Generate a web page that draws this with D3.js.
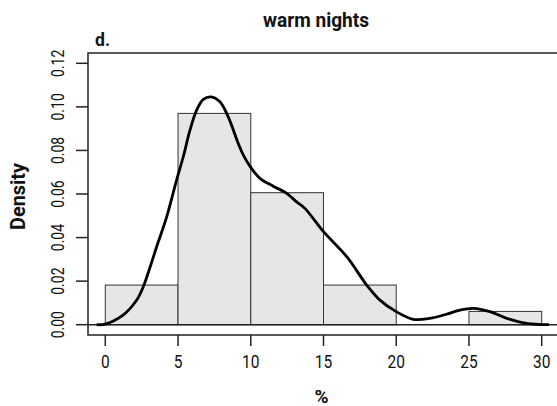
<!DOCTYPE html>
<html>
<head>
<meta charset="utf-8">
<script src="https://cdn.jsdelivr.net/npm/d3@7"></script>
<style>
  body { margin: 0; background: #fff; }
  text { font-family: "Roboto", "Liberation Sans", sans-serif; fill: #111; }
</style>
</head>
<body>
<div id="chart"></div>
<script>
// histogram of warm nights (%), density scale
const breaks = [0, 5, 10, 15, 20, 25, 30];
const binDensity = [0.0182, 0.097, 0.0606, 0.0182, 0, 0.0061];

// kernel density estimate
const densX = [-0.6, 0, 1.24, 2.16, 2.61, 3.3, 3.53, 4.22, 4.9, 5.36, 5.82, 6.28, 6.74, 7.26,
  7.88, 8.45, 9.14, 9.49, 10.0, 10.63, 11.55, 12.47, 13.15, 13.72, 15, 16.6, 17.97, 18.88,
  20, 21.17, 22.3, 23.46, 24.38, 25.3, 26.44, 27.6, 28.96, 30.5];
const densY = [0, 0.0003, 0.0045, 0.0113, 0.0174, 0.031, 0.0358, 0.0495, 0.0664, 0.0771, 0.0893,
  0.0985, 0.1034, 0.1046, 0.1023, 0.0954, 0.0832, 0.0778, 0.0722, 0.0672, 0.0636, 0.0603,
  0.0564, 0.0534, 0.0427, 0.0312, 0.0182, 0.0113, 0.006, 0.0025, 0.0029, 0.0048, 0.0067,
  0.0075, 0.006, 0.0029, 0.0006, 0];

const xTicks = [0, 5, 10, 15, 20, 25, 30];
const yTicks = [0, 0.02, 0.04, 0.06, 0.08, 0.10, 0.12];

const width = 557, height = 406;
const box = {left: 88, top: 53, right: 566, bottom: 335};

const x = d3.scaleLinear().domain([0, 30]).range([105.3, 541.7]);
const y = d3.scaleLinear().domain([0, 0.12]).range([324.7, 63.3]);

// squeeze text to look like the condensed font of the original
const condense = (sel, k) => sel.each(function () {
  const len = this.getComputedTextLength();
  d3.select(this).attr("textLength", len * k).attr("lengthAdjust", "spacingAndGlyphs");
});
const fitTo = (sel, w) => sel.attr("textLength", w).attr("lengthAdjust", "spacingAndGlyphs");

const svg = d3.select("#chart").append("svg")
  .attr("width", width)
  .attr("height", height);

// bars
const bins = binDensity.map((d, i) => ({x0: breaks[i], x1: breaks[i + 1], d: d}));
svg.selectAll(".bar")
  .data(bins.filter(b => b.d > 0))
  .enter().append("rect")
  .attr("class", "bar")
  .attr("x", b => x(b.x0))
  .attr("y", b => y(b.d))
  .attr("width", b => x(b.x1) - x(b.x0))
  .attr("height", b => y(0) - y(b.d))
  .attr("fill", "#e5e6e8")
  .attr("stroke", "#333")
  .attr("stroke-width", 1);

// baseline at zero
svg.append("line")
  .attr("x1", box.left).attr("x2", box.right)
  .attr("y1", y(0)).attr("y2", y(0))
  .attr("stroke", "#222").attr("stroke-width", 1.5);

// density line
const line = d3.line()
  .x((d, i) => x(densX[i]))
  .y(d => y(d))
  .curve(d3.curveCatmullRom);
svg.append("path")
  .attr("d", line(densY))
  .attr("fill", "none")
  .attr("stroke", "#000")
  .attr("stroke-width", 2.8);

// box (left, top, bottom)
svg.append("path")
  .attr("d", `M${box.right},${box.top}H${box.left}V${box.bottom}H${box.right}`)
  .attr("fill", "none")
  .attr("stroke", "#222")
  .attr("stroke-width", 1.5);

// x axis
const xAxis = svg.append("g");
xAxis.selectAll("line")
  .data(xTicks).enter().append("line")
  .attr("x1", d => x(d)).attr("x2", d => x(d))
  .attr("y1", box.bottom).attr("y2", 346)
  .attr("stroke", "#222").attr("stroke-width", 1.5);
xAxis.selectAll("text")
  .data(xTicks).enter().append("text")
  .attr("x", d => x(d))
  .attr("y", 368)
  .attr("text-anchor", "middle")
  .style("font-size", "18px")
  .text(d => d)
  .call(condense, 0.86);

// y axis
const yAxis = svg.append("g");
yAxis.selectAll("line")
  .data(yTicks).enter().append("line")
  .attr("x1", 76).attr("x2", box.left)
  .attr("y1", d => y(d)).attr("y2", d => y(d))
  .attr("stroke", "#222").attr("stroke-width", 1.5);
yAxis.selectAll("text")
  .data(yTicks).enter().append("text")
  .attr("transform", d => `translate(64,${y(d)}) rotate(-90)`)
  .attr("text-anchor", "middle")
  .style("font-size", "17.5px")
  .text(d => d.toFixed(2))
  .call(condense, 0.8);

// labels
svg.append("text")
  .attr("x", 316).attr("y", 27)
  .attr("text-anchor", "middle")
  .style("font-size", "20px").style("font-weight", "bold")
  .text("warm nights")
  .call(fitTo, 106);

svg.append("text")
  .attr("x", 95).attr("y", 46)
  .style("font-size", "18px").style("font-weight", "bold")
  .text("d.")
  .call(fitTo, 15);

svg.append("text")
  .attr("transform", "translate(25,196.5) rotate(-90)")
  .attr("text-anchor", "middle")
  .style("font-size", "21px").style("font-weight", "bold")
  .text("Density")
  .call(fitTo, 67);

svg.append("text")
  .attr("x", 321.5).attr("y", 403)
  .attr("text-anchor", "middle")
  .style("font-size", "19px").style("font-weight", "bold")
  .text("%");
</script>
</body>
</html>
